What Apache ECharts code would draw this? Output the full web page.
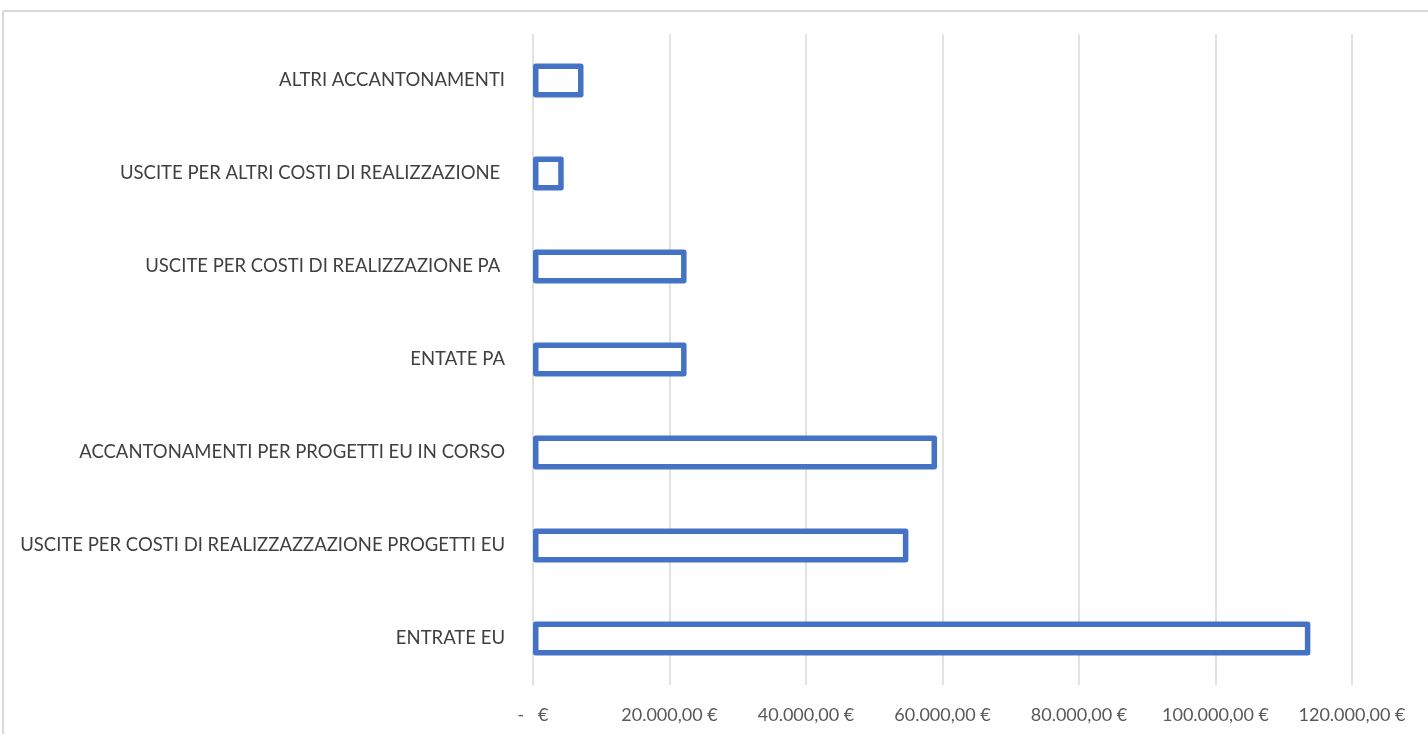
<!DOCTYPE html>
<html>
<head>
<meta charset="utf-8">
<script src="https://cdn.jsdelivr.net/npm/echarts@6/dist/echarts.min.js"></script>
<style>
html,body{margin:0;padding:0;background:#fff;}
#chart{width:1428px;height:734px;}
</style>
</head>
<body>
<div id="chart"></div>
<script>
const categories = [
  "ENTRATE EU",
  "USCITE PER COSTI DI REALIZZAZZAZIONE PROGETTI EU",
  "ACCANTONAMENTI PER PROGETTI EU IN CORSO",
  "ENTATE PA",
  "USCITE PER COSTI DI REALIZZAZIONE PA ",
  "USCITE PER ALTRI COSTI DI REALIZZAZIONE ",
  "ALTRI ACCANTONAMENTI"
];
const values = [113900, 55000, 59200, 22500, 22500, 4500, 7400];
const xTicks = [0, 20000, 40000, 60000, 80000, 100000, 120000];

function fmtEuro(v) {
  if (v === 0) return "-   €";
  const s = Math.round(v).toString().replace(/\B(?=(\d{3})+(?!\d))/g, ".");
  return s + ",00 €";
}

const chart = echarts.init(document.getElementById('chart'), null, {renderer: 'canvas'});
chart.setOption({
  backgroundColor: '#ffffff',
  animation: false,
  textStyle: {fontFamily: 'Lato'},
  graphic: [
    {type: 'line', shape: {x1: 3, y1: 11, x2: 1428, y2: 11}, style: {stroke: '#d9d9d9', lineWidth: 2}},
    {type: 'line', shape: {x1: 3, y1: 11, x2: 3, y2: 734}, style: {stroke: '#d9d9d9', lineWidth: 2}}
  ],
  grid: {left: 533, right: 76, top: 34, bottom: 49, containLabel: false},
  xAxis: {
    type: 'value',
    min: xTicks[0],
    max: xTicks[xTicks.length - 1],
    interval: 20000,
    axisLine: {show: false},
    axisTick: {show: false},
    splitLine: {show: true, lineStyle: {color: '#d9d9d9', width: 1.5}},
    axisLabel: {
      formatter: fmtEuro,
      color: '#595959',
      fontSize: 18,
      fontFamily: 'Lato',
      margin: 21
    }
  },
  yAxis: {
    type: 'category',
    data: categories,
    axisLine: {show: false},
    axisTick: {show: false},
    splitLine: {show: false},
    axisLabel: {
      color: '#404040',
      fontSize: 18.5,
      fontFamily: 'Lato',
      margin: 28
    }
  },
  series: [{
    type: 'bar',
    data: values,
    barWidth: 34,
    itemStyle: {
      color: '#ffffff',
      borderColor: '#4472C4',
      borderWidth: 5.5,
      borderJoin: 'round'
    }
  }]
});
</script>
</body>
</html>
